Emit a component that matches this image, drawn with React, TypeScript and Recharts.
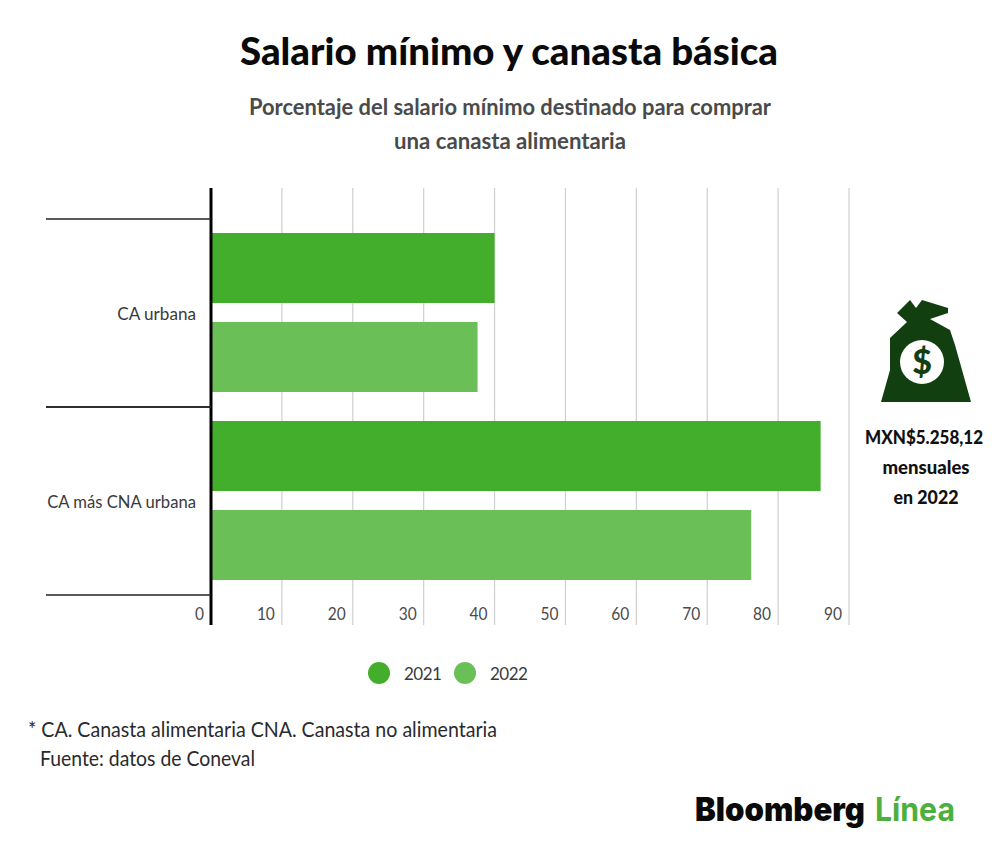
import { BarChart, Bar, XAxis, YAxis, CartesianGrid, Legend } from "recharts";

const categories = ["CA urbana", "CA más CNA urbana"];
const values2021 = [40, 86];
const values2022 = [37.6, 76.2];
const xTicks = [0, 10, 20, 30, 40, 50, 60, 70, 80, 90];

const data = categories.map((name, i) => ({
  name,
  y2021: values2021[i],
  y2022: values2022[i],
}));

const bodyFont = "Lato, sans-serif";
const inkColor = "#3a3a3c";

// category label plus the black separators above and below its band
function CategoryTick({ y, payload }: any) {
  return (
    <g>
      <line x1={46} x2={211} y1={y - 93} y2={y - 93} stroke="#222" strokeWidth={1.5} />
      <line x1={46} x2={211} y1={y + 95} y2={y + 95} stroke="#222" strokeWidth={1.5} />
      <text
        x={196}
        y={y + 3}
        textAnchor="end"
        dominantBaseline="middle"
        textLength={String(payload.value).length * 8.75}
        lengthAdjust="spacingAndGlyphs"
        fontFamily={bodyFont}
        fontSize={18}
        fill={inkColor}
      >
        {payload.value}
      </text>
    </g>
  );
}

// value labels sit inside the plot, left of each grid line
function ValueTick({ x, y, payload }: any) {
  return (
    <text
      x={x - 7}
      y={y - 11}
      textAnchor="end"
      textLength={String(payload.value).length * 9}
      lengthAdjust="spacingAndGlyphs"
      fontFamily={bodyFont}
      fontSize={18}
      fill="#4a4a4c"
    >
      {payload.value}
    </text>
  );
}

function LegendContent({ payload }: any) {
  const lefts = [368, 454];
  return (
    <div style={{ position: "relative", height: 24 }}>
      {(payload || []).map((p: any, i: number) => (
        <div key={p.value} style={{ position: "absolute", left: lefts[i], top: 0, display: "flex", alignItems: "center" }}>
          <span style={{ width: 22, height: 22, borderRadius: 11, background: p.color, display: "inline-block" }} />
          <span style={{ marginLeft: 14, fontFamily: bodyFont, fontSize: 17, letterSpacing: -0.5, color: inkColor }}>{p.value}</span>
        </div>
      ))}
    </div>
  );
}

function Overlay() {
  return (
    <svg width={1000} height={852} style={{ position: "absolute", left: 0, top: 0, pointerEvents: "none" }}>
      <text x={240} y={65} textLength={538} lengthAdjust="spacingAndGlyphs" fontFamily={bodyFont} fontWeight={900} fontSize={37} fill="#0a0a0a">
        Salario mínimo y canasta básica
      </text>
      <text x={249} y={115} textLength={522} lengthAdjust="spacingAndGlyphs" fontFamily={bodyFont} fontWeight={700} fontSize={22} fill="#4a4a4c">
        Porcentaje del salario mínimo destinado para comprar
      </text>
      <text x={394} y={149} textLength={232} lengthAdjust="spacingAndGlyphs" fontFamily={bodyFont} fontWeight={700} fontSize={22} fill="#4a4a4c">
        una canasta alimentaria
      </text>

      <path
        d="M897 313 L910 300 L916 308 L922 300 L948 308 L948 313 L930 319 L950 330 L955 345 L971 402 L881 402 L890 370 L890 338 L907 322 Z"
        fill="#123f10"
      />
      <circle cx={922} cy={362} r={22} fill="#fff" />
      <text x={922} y={374} textAnchor="middle" fontFamily={bodyFont} fontWeight={900} fontSize={34} fill="#123f10">
        $
      </text>

      <text x={924} y={444} textAnchor="middle" textLength={118} lengthAdjust="spacingAndGlyphs" fontFamily={bodyFont} fontWeight={900} fontSize={18} fill="#111">
        MXN$5.258,12
      </text>
      <text x={926} y={474} textAnchor="middle" textLength={87} lengthAdjust="spacingAndGlyphs" fontFamily={bodyFont} fontWeight={900} fontSize={18} fill="#111">
        mensuales
      </text>
      <text x={926} y={504} textAnchor="middle" textLength={65} lengthAdjust="spacingAndGlyphs" fontFamily={bodyFont} fontWeight={900} fontSize={18} fill="#111">
        en 2022
      </text>

      <text x={28} y={737} textLength={469} lengthAdjust="spacingAndGlyphs" fontFamily={bodyFont} fontSize={21} fill="#2a2a2c">
        * CA. Canasta alimentaria CNA. Canasta no alimentaria
      </text>
      <text x={40} y={766} textLength={215} lengthAdjust="spacingAndGlyphs" fontFamily={bodyFont} fontSize={21} fill="#2a2a2c">
        Fuente: datos de Coneval
      </text>

      <text x={695} y={821} textLength={170} lengthAdjust="spacingAndGlyphs" fontFamily="Inter, sans-serif" fontWeight={900} fontSize={33} fill="#0a0a0a">
        Bloomberg
      </text>
      <text x={875} y={821} textLength={80} lengthAdjust="spacingAndGlyphs" fontFamily="Inter, sans-serif" fontWeight={700} fontSize={33} fill="#4caf3e">
        Línea
      </text>
    </svg>
  );
}

export default function App() {
  return (
    <div style={{ position: "absolute", left: 0, top: 0, width: 1000, height: 852, background: "#fff" }}>
      <BarChart
        width={1000}
        height={852}
        data={data}
        layout="vertical"
        margin={{ top: 188, right: 151, bottom: 0, left: 0 }}
        barSize={70}
        barGap={19}
      >
        <CartesianGrid horizontal={false} stroke="#cfcfcf" strokeWidth={1.2} />
        <XAxis
          type="number"
          domain={[0, 90]}
          ticks={xTicks}
          height={203}
          axisLine={false}
          tickLine={false}
          tick={<ValueTick />}
          tickMargin={0}
          interval={0}
        />
        <YAxis
          type="category"
          dataKey="name"
          width={211}
          padding={{ top: 30, bottom: 31 }}
          axisLine={{ stroke: "#000", strokeWidth: 3 }}
          tickLine={false}
          tick={<CategoryTick />}
          interval={0}
        />
        <Bar dataKey="y2021" name="2021" fill="#43ae2b" isAnimationActive={false} />
        <Bar dataKey="y2022" name="2022" fill="#6abf57" isAnimationActive={false} />
        <Legend
          content={<LegendContent />}
          wrapperStyle={{ position: "absolute", left: 0, top: 662, width: 1000, height: 24 }}
        />
      </BarChart>
      <Overlay />
    </div>
  );
}
